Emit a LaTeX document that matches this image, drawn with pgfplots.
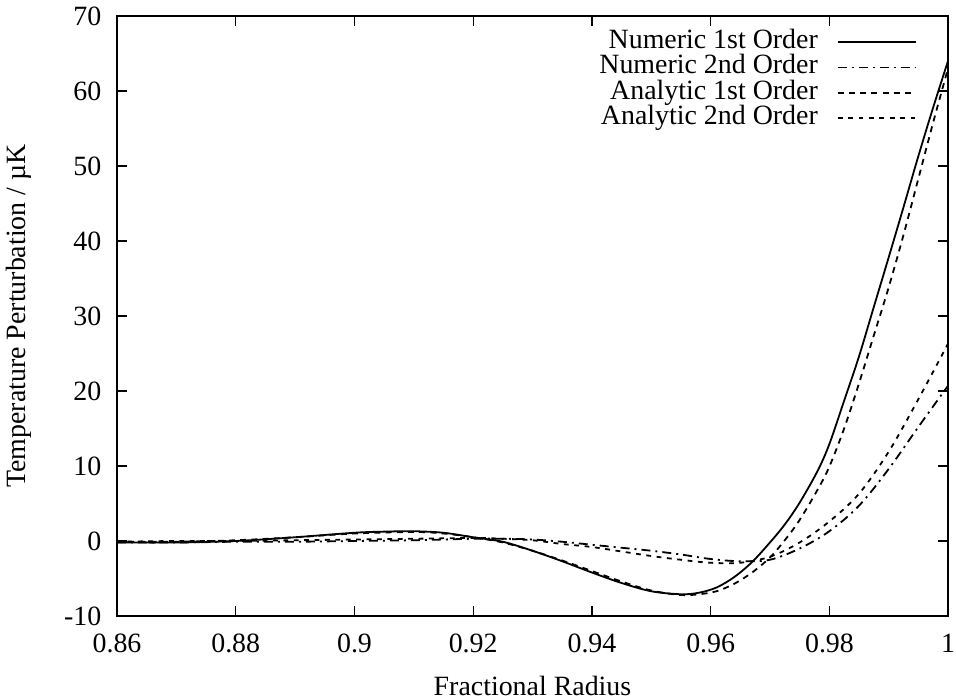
\documentclass[border=0pt]{standalone}
\usepackage{fontspec}
\setmainfont{Liberation Serif}
\usepackage{pgfplots}
\pgfplotsset{compat=1.18}

% radius vs temperature perturbation
\pgfplotstableread{
x      y
0.86   -0.2
0.87   -0.2
0.88    0.0
0.89    0.5
0.90    1.1
0.905   1.25
0.91    1.3
0.915   1.1
0.92    0.5
0.925  -0.1
0.93   -1.3
0.935  -2.7
0.94   -4.2
0.945  -5.6
0.95   -6.7
0.955  -7.1
0.958  -6.9
0.961  -6.2
0.964  -4.8
0.967  -2.8
0.970  -0.2
0.9725  2.2
0.975   5.1
0.978   9.3
0.98   12.9
0.9825 18.7
0.985  24.6
0.9875 31.2
0.99   37.8
0.9925 44.5
0.995  51.3
0.9975 57.8
1.0    64.0
}\numfirst

\pgfplotstableread{
x      y
0.86   -0.2
0.87   -0.2
0.88   -0.1
0.89   -0.1
0.90    0.0
0.91    0.1
0.92    0.3
0.925   0.3
0.93    0.2
0.935  -0.1
0.94   -0.5
0.945  -0.9
0.95   -1.3
0.955  -1.8
0.96   -2.4
0.965  -2.7
0.97   -2.5
0.975  -1.0
0.98    1.3
0.985   4.7
0.99    9.6
0.995  15.2
1.0    20.7
}\numsecond

\pgfplotstableread{
x      y
0.86   -0.1
0.87   -0.1
0.88    0.1
0.89    0.5
0.90    1.0
0.91    1.2
0.915   1.0
0.92    0.5
0.925  -0.2
0.93   -1.3
0.935  -2.6
0.94   -4.0
0.945  -5.4
0.95   -6.6
0.955  -7.2
0.958  -7.1
0.961  -6.7
0.964  -5.7
0.967  -4.2
0.970  -2.2
0.9725  0.1
0.975   2.8
0.978   6.8
0.98    9.9
0.9825 15.0
0.985  21.0
0.9875 27.4
0.99   33.8
0.9925 40.8
0.995  48.3
0.9975 55.8
1.0    63.0
}\anafirst

\pgfplotstableread{
x      y
0.86   -0.1
0.87    0.0
0.88    0.0
0.89    0.1
0.90    0.2
0.91    0.3
0.92    0.4
0.925   0.3
0.93    0.1
0.935  -0.4
0.94   -0.8
0.945  -1.4
0.95   -2.0
0.955  -2.5
0.96   -2.9
0.965  -2.9
0.97   -2.1
0.975  -0.2
0.98    2.6
0.985   6.3
0.99   11.9
0.995  18.9
1.0    26.3
}\anasecond

\begin{document}
\begin{tikzpicture}[font=\fontsize{14}{16}\selectfont]
\begin{axis}[
  name=ax,
  scale only axis, width=415.5bp, height=300bp,
  xmin=0.86, xmax=1, ymin=-10, ymax=70,
  xtick={0.86,0.88,...,0.99,1}, ytick={-10,0,...,70},
  tick align=inside, major tick length=5bp,
  axis line style={line width=0.7bp}, every tick/.style={black, line width=0.7bp},
  /pgf/number format/assume math mode=true,
  tick label style={font=\fontsize{14}{16}\selectfont},
  label style={font=\fontsize{14}{16}\selectfont},
  xticklabel style={yshift=-5.5bp}, yticklabel style={xshift=-4.3bp},
  xlabel={Fractional Radius},
  ylabel={Temperature Perturbation / µK},
  xlabel style={at={(axis description cs:0.5,-0.1333)}, anchor=base},
  ylabel style={at={(axis description cs:-0.1107,0.5)}, anchor=base},
  legend plot pos=right, legend cell align=right,
  legend style={at={(axis description cs:0.9627,0.978)}, anchor=north east,
    draw=none, fill=none, inner sep=0pt, row sep=0pt, column sep=9.5bp,
    font=\fontsize{14}{16}\selectfont,
    nodes={inner sep=0pt, text height=9.5bp, text depth=3.15bp}},
  legend image code/.code={\draw[#1] (0bp,0bp) -- (39bp,0bp);},
  every axis plot/.append style={smooth, tension=0.55},
]
\addplot[black, line width=0.9bp] table {\numfirst};
\addplot[black, line width=0.9bp, dash pattern=on 4.5bp off 2.5bp on 1bp off 2.5bp] table {\numsecond};
\addplot[black, line width=0.9bp, dash pattern=on 3bp off 2.6bp] table {\anafirst};
\addplot[black, line width=0.9bp, dash pattern=on 2.4bp off 2.8bp] table {\anasecond};
\legend{Numeric 1st Order, Numeric 2nd Order, Analytic 1st Order, Analytic 2nd Order}
\end{axis}
\pgfresetboundingbox
\path (ax.south west) ++(-58.5bp,-42bp) coordinate (bl);
\path (ax.north east) ++(4bp,8bp) coordinate (tr);
\path[use as bounding box] (bl) rectangle (tr);
\end{tikzpicture}
\end{document}
